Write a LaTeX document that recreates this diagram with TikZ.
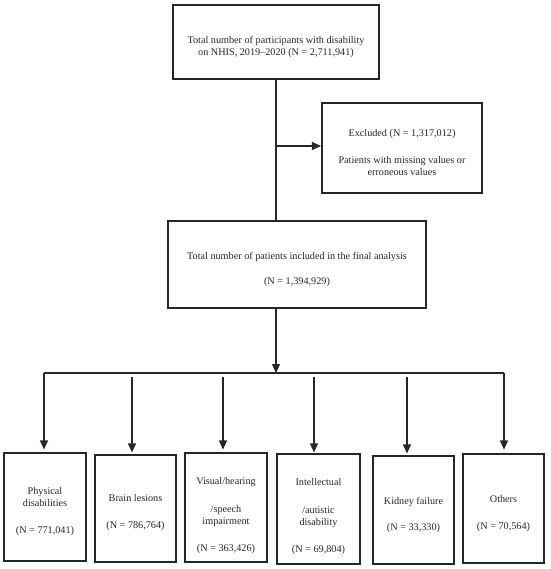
\documentclass[tikz,border=0pt]{standalone}
\usepackage{fontspec}
\setmainfont{Liberation Serif}
\usetikzlibrary{arrows.meta}
\tikzset{
  box/.style={draw=black!85, line width=1.1pt, inner sep=0pt},
  txt/.style={align=center, inner sep=0pt, text=black!85, font=\fontsize{10.2}{12}\selectfont},
  conn/.style={draw=black!85, line width=1.1pt},
  arr/.style={conn, -{Triangle[length=9pt,width=8pt]}},
}
\begin{document}
\begin{tikzpicture}[x=1pt,y=-1pt]
\useasboundingbox (0,0) rectangle (550,569);
% boxes
\node[box, minimum width=206pt, minimum height=74pt] (top) at (276,42) {};
\node[box, minimum width=160pt, minimum height=90pt] (excl) at (402,148) {};
\node[box, minimum width=258pt, minimum height=87pt] (final) at (297,264.5) {};
\node[box, minimum width=82pt, minimum height=108pt] (b1) at (45,507) {};
\node[box, minimum width=81pt, minimum height=107pt] (b2) at (135.5,508.5) {};
\node[box, minimum width=82pt, minimum height=109pt] (b3) at (226,507.5) {};
\node[box, minimum width=83pt, minimum height=110pt] (b4) at (318.5,509) {};
\node[box, minimum width=81pt, minimum height=108pt] (b5) at (413.5,510) {};
\node[box, minimum width=81pt, minimum height=109pt] (b6) at (503.5,508.5) {};
% texts
\node[txt] (ttop) at ([yshift=-5pt]top.center) {Total number of participants with disability\\on NHIS, 2019--2020 (N = 2,711,941)};
\node[txt] (texcl) at ([yshift=-4.5pt]excl.center) {Excluded (N = 1,317,012)\\[15pt]Patients with missing values or\\erroneous values};
\node[txt] (tfinal) at ([yshift=-5pt]final.center) {Total number of patients included in the final analysis\\[13pt](N = 1,394,929)};
\node[txt] (t1) at ([yshift=-4.5pt]b1.center) {Physical\\disabilities\\[15pt](N = 771,041)};
\node[txt] (t2) at ([yshift=-4pt]b2.center) {Brain lesions\\[15pt](N = 786,764)};
\node[txt] (t3) at ([yshift=-8.5pt]b3.center) {Visual/hearing\\[16pt]/speech\\impairment\\[15pt](N = 363,426)};
\node[txt] (t4) at ([yshift=-8pt]b4.center) {Intellectual\\[16pt]/autistic\\disability\\[15pt](N = 69,804)};
\node[txt] (t5) at ([yshift=-5pt]b5.center) {Kidney failure\\[14pt](N = 33,330)};
\node[txt] (t6) at ([yshift=-5pt]b6.center) {Others\\[15pt](N = 70,564)};
% coordinates
\coordinate (ex) at (276,146);
\coordinate (j) at (276,373);
\coordinate (a1) at (44,373);
\coordinate (a2) at (132,377);
\coordinate (a3) at (223,377);
\coordinate (a4) at (314,377);
\coordinate (a5) at (407,377);
\coordinate (a6) at (504,373);
% connectors
\draw[conn] (top.south) -- (top.south |- final.north);
\draw[arr, shorten >=0.5pt] (ex) -- (excl.west |- ex);
\draw[arr] (top.south |- final.south) -- (j);
\draw[conn] (a1) -- (a6);
\draw[arr, shorten >=3pt] (a1) -- (a1 |- b1.north);
\draw[arr, shorten >=2pt] (a2) -- (a2 |- b2.north);
\draw[arr, shorten >=3pt] (a3) -- (a3 |- b3.north);
\draw[arr, shorten >=1pt] (a4) -- (a4 |- b4.north);
\draw[arr, shorten >=2pt] (a5) -- (a5 |- b5.north);
\draw[arr, shorten >=4pt] (a6) -- (a6 |- b6.north);
\end{tikzpicture}
\end{document}
